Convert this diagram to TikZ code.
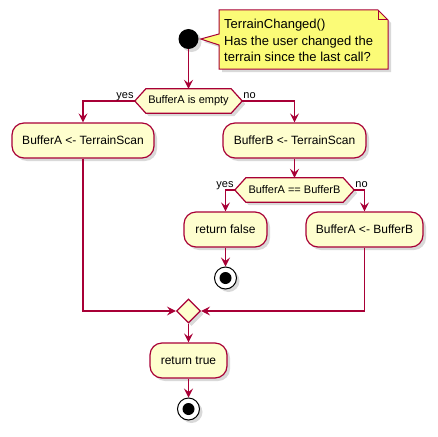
\documentclass[tikz,border=0pt]{standalone}
\usepackage{fontspec}
\setmainfont{Liberation Sans}
\usetikzlibrary{shapes.geometric,shadows,arrows.meta,calc}
\definecolor{umlfill}{HTML}{FEFECE}
\definecolor{umlline}{HTML}{A80036}
\definecolor{notefill}{HTML}{FBFB77}
\begin{document}
\begin{tikzpicture}[x=1pt,y=-1pt,
  shadowed/.style={drop shadow={shadow xshift=3pt,shadow yshift=-3pt,opacity=0.3}},
  act/.style={rectangle, rounded corners=12pt, draw=umlline, fill=umlfill, line width=1.2pt,
    minimum height=35pt, inner sep=0, font=\fontsize{12}{14}\selectfont, shadowed},
  hexlbl/.style={rectangle, draw=none, inner sep=0, minimum height=24pt, font=\fontsize{11}{13}\selectfont},
  hexshape/.style={fill=umlfill, draw=umlline, line width=1.2pt, shadowed},
  arr/.style={draw=umlline, line width=1.2pt, -{Stealth[length=9pt,width=9pt,inset=3.5pt]}},
  lbl/.style={font=\fontsize{11}{13}\selectfont, inner sep=0},
  endnode/.style={circle, draw=black, fill=white, line width=1pt, minimum size=22pt, inner sep=0, shadowed}]
\useasboundingbox (0,0) rectangle (438,436);

% start
\node[circle, fill=black, minimum size=20pt, inner sep=0, shadowed] (s) at (188.5,39) {};

% note
\coordinate (tip) at ($(s.east)+(2,0)$);
\filldraw[fill=notefill, draw=umlline, line width=1pt, shadowed]
  (219,10) -- (378,10) -- (388,20) -- (388,69) -- (219,69) -- (219,45) -- (tip) -- (219,34) -- cycle;
\draw[umlline, line width=1pt] (378,10) -- (378,20) -- (388,20);
\node[anchor=west, align=left, font=\fontsize{13}{16.5}\selectfont, inner sep=0] (nt) at (224,40.5)
  {TerrainChanged()\\Has the user changed the\\terrain since the last call?};

% decision 1
\node[hexlbl, minimum width=107pt] (d1) at (188.5,101) {};
\filldraw[hexshape] (d1.west) -- ($(d1.north west)+(11,0)$) -- ($(d1.north east)+(-11,0)$)
  -- (d1.east) -- ($(d1.south east)+(-11,0)$) -- ($(d1.south west)+(11,0)$) -- cycle;
\node[hexlbl] at (d1.center) {BufferA is empty};

\node[act, minimum width=142pt] (a1) at (83,140.5) {BufferA <- TerrainScan};
\node[act, minimum width=143pt] (b1) at (294.5,140.5) {BufferB <- TerrainScan};

% decision 2
\node[hexlbl, minimum width=119pt] (d2) at (294.5,190) {};
\filldraw[hexshape] (d2.west) -- ($(d2.north west)+(11,0)$) -- ($(d2.north east)+(-11,0)$)
  -- (d2.east) -- ($(d2.south east)+(-11,0)$) -- ($(d2.south west)+(11,0)$) -- cycle;
\node[hexlbl] at (d2.center) {BufferA == BufferB};

\node[act, minimum width=83pt] (rf) at (225.5,229.5) {return false};
\node[act, minimum width=117pt] (ab) at (364.5,229.5) {BufferA <- BufferB};

\node[endnode] (e1) at (225.5,278) {};
\fill[black] (e1.center) circle (6pt);

% merge
\node[diamond, draw=umlline, fill=umlfill, line width=1.2pt, minimum width=24pt, minimum height=24pt, inner sep=0, shadowed] (m) at (188.5,311) {};

\node[act, minimum width=77pt] (rt) at (188.5,360.5) {return true};
\node[endnode] (e2) at (188.5,409) {};
\fill[black] (e2.center) circle (6pt);

% connectors
\draw[arr] (s) -- (d1.north);
\draw[arr] (d1.west) -| (a1.north);
\draw[arr] (d1.east) -| (b1.north);
\draw[arr] (b1.south) -- (d2.north);
\draw[arr] (d2.west) -| (rf.north);
\draw[arr] (d2.east) -| (ab.north);
\draw[arr] (rf.south) -- (e1.north);
\draw[arr] (a1.south) |- (m.west);
\draw[arr] (ab.south) |- (m.east);
\draw[arr] (m.south) -- (rt.north);
\draw[arr] (rt.south) -- (e2.north);

% labels
\node[lbl, anchor=base east] (y1) at ($(d1.west)+(-1,-3)$) {yes};
\node[lbl, anchor=base west] (n1) at ($(d1.east)+(1,-3)$) {no};
\node[lbl, anchor=base east] (y2) at ($(d2.west)+(-1,-3)$) {yes};
\node[lbl, anchor=base west] (n2) at ($(d2.east)+(1,-3)$) {no};
\end{tikzpicture}
\end{document}
